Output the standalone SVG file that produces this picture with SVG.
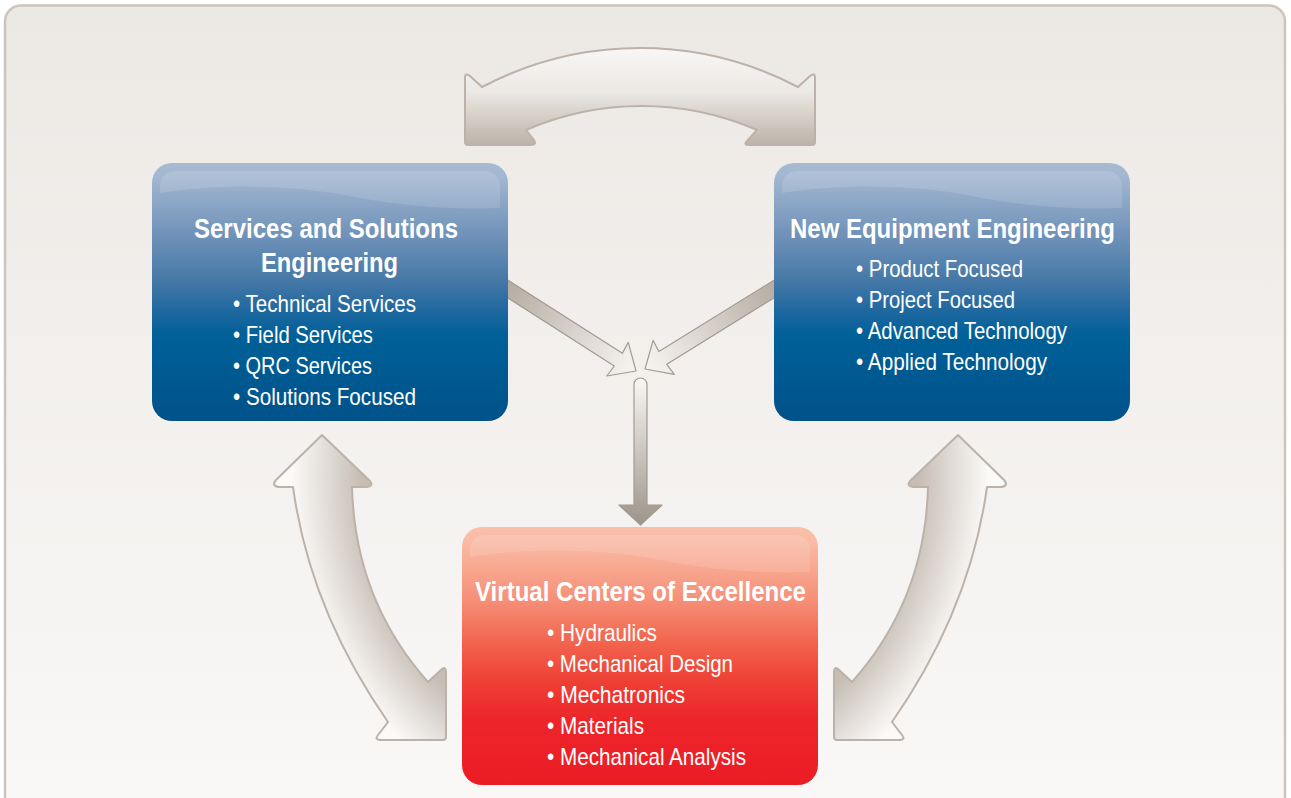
<svg xmlns="http://www.w3.org/2000/svg" width="1291" height="798" viewBox="0 0 1291 798">
<style>
.title{font-family:"Liberation Sans",Arial,sans-serif;font-weight:bold;font-size:28px;fill:#ffffff}
.item{font-family:"Liberation Sans",Arial,sans-serif;font-size:24px;fill:#ffffff}
.gloss{fill:#ffffff;fill-opacity:0.13}
.big{stroke:#bcb2a9;stroke-width:2;stroke-linejoin:round}
.thin{stroke:#a39a91;stroke-width:1.2;stroke-linejoin:round}
</style>
<defs>
<linearGradient id="panelG" x1="0" y1="0" x2="0" y2="1">
<stop offset="0" stop-color="#ece8e4"/>
<stop offset="1" stop-color="#faf9f8"/>
</linearGradient>
<linearGradient id="blueG" x1="0" y1="0" x2="0" y2="1">
<stop offset="0" stop-color="#a6bad2"/>
<stop offset="0.05" stop-color="#a3b7d0"/>
<stop offset="0.26" stop-color="#7495bb"/>
<stop offset="0.45" stop-color="#4779a7"/>
<stop offset="0.57" stop-color="#2068a0"/>
<stop offset="0.67" stop-color="#006098"/>
<stop offset="1" stop-color="#00528a"/>
</linearGradient>
<linearGradient id="redG" x1="0" y1="0" x2="0" y2="1">
<stop offset="0" stop-color="#fabfaa"/>
<stop offset="0.05" stop-color="#f9bca6"/>
<stop offset="0.28" stop-color="#f69078"/>
<stop offset="0.44" stop-color="#f26650"/>
<stop offset="0.6" stop-color="#ef3f35"/>
<stop offset="0.75" stop-color="#ed252a"/>
<stop offset="1" stop-color="#ec1c24"/>
</linearGradient>
<linearGradient id="topArrG" x1="0" y1="0" x2="0" y2="1">
<stop offset="0" stop-color="#f8f7f6"/>
<stop offset="0.45" stop-color="#ece8e4"/>
<stop offset="1" stop-color="#bcb2a8"/>
</linearGradient>
<radialGradient id="sideG" gradientUnits="userSpaceOnUse" cx="670" cy="475" r="390">
<stop offset="0.79" stop-color="#c6bdb4"/>
<stop offset="0.97" stop-color="#fbfaf9"/>
</radialGradient>
<linearGradient id="diagG" x1="0" y1="0" x2="1" y2="0">
<stop offset="0" stop-color="#ada398"/>
<stop offset="1" stop-color="#f7f5f3"/>
</linearGradient>
<linearGradient id="vertG" x1="0" y1="0" x2="0" y2="1">
<stop offset="0" stop-color="#f8f7f5"/>
<stop offset="1" stop-color="#9d948a"/>
</linearGradient>
<path id="diag" d="M -175,-7.5 L -21,-7.5 L -22,-20 L 0,0 L -22,20 L -21,7.5 L -175,7.5 Z"/>
<path id="sideArrow" d="M 322,435 L 370,481 Q 374,486 367,487 L 352,487 Q 355,600 428,682 L 442,669 Q 446,666 446,672 L 446,737 Q 446,740 443,740 L 381,740 Q 374,740 378,735 L 388,722 Q 310,610 293,487 L 279,487 Q 271,486 276,480 Z"/>
</defs>
<rect x="0" y="0" width="1291" height="798" fill="#ffffff"/>
<rect x="5" y="5.5" width="1280" height="830" rx="16" fill="url(#panelG)" stroke="#cdc4bb" stroke-width="2.5"/>

<g id="connectors">
<path id="top-arrow" class="big" fill="url(#topArrG)" d="M 465,78 Q 465,72 470,76 L 482,87 A 340 340 0 0 1 798,87 L 810,76 Q 815,72 815,78 L 815,142 Q 815,145 812,145 L 749,145 Q 743,145 747,141 L 757,130 A 290 290 0 0 0 526,130 L 534,140 Q 537,145 531,145 L 468,145 Q 465,145 465,142 Z"/>
<use id="left-side-arrow" href="#sideArrow" class="big" fill="url(#sideG)"/>
<use id="right-side-arrow" href="#sideArrow" class="big" fill="url(#sideG)" transform="translate(1280,0) scale(-1,1)"/>
<use id="left-diag-arrow" href="#diag" class="thin" fill="url(#diagG)" transform="translate(636,371) rotate(32.6)"/>
<use id="right-diag-arrow" href="#diag" class="thin" fill="url(#diagG)" transform="translate(645,369) rotate(148.2)"/>
<path id="down-arrow" class="thin" fill="url(#vertG)" d="M 634,384.5 A 6.5 6.5 0 0 1 647,384.5 L 647,505 L 662,505 L 640.5,525 L 619,505 L 634,505 Z"/>
</g>

<g id="node-services">
<rect x="152" y="163" width="356" height="258" rx="20" fill="url(#blueG)"/>
<path class="gloss" d="M 160,193 C 215,184 290,184 350,196 C 400,206 450,210 500,208 L 500,188 Q 500,171 483,171 L 177,171 Q 160,171 160,188 Z"/>
<text class="title" x="194" y="238" textLength="264" lengthAdjust="spacingAndGlyphs">Services and Solutions</text>
<text class="title" x="261" y="272" textLength="137" lengthAdjust="spacingAndGlyphs">Engineering</text>
<text class="item" x="233" y="311.5" textLength="183" lengthAdjust="spacingAndGlyphs">• Technical Services</text>
<text class="item" x="233" y="342.5" textLength="140" lengthAdjust="spacingAndGlyphs">• Field Services</text>
<text class="item" x="233" y="373.5" textLength="139" lengthAdjust="spacingAndGlyphs">• QRC Services</text>
<text class="item" x="233" y="404.5" textLength="183" lengthAdjust="spacingAndGlyphs">• Solutions Focused</text>
</g>

<g id="node-new-equipment">
<rect x="774" y="163" width="356" height="258" rx="20" fill="url(#blueG)"/>
<path class="gloss" d="M 782,193 C 837,184 912,184 972,196 C 1022,206 1072,210 1122,208 L 1122,188 Q 1122,171 1105,171 L 799,171 Q 782,171 782,188 Z"/>
<text class="title" x="790" y="238.3" textLength="325" lengthAdjust="spacingAndGlyphs">New Equipment Engineering</text>
<text class="item" x="856" y="277" textLength="167" lengthAdjust="spacingAndGlyphs">• Product Focused</text>
<text class="item" x="856" y="308" textLength="159" lengthAdjust="spacingAndGlyphs">• Project Focused</text>
<text class="item" x="856" y="339" textLength="211" lengthAdjust="spacingAndGlyphs">• Advanced Technology</text>
<text class="item" x="856" y="370" textLength="191" lengthAdjust="spacingAndGlyphs">• Applied Technology</text>
</g>

<g id="node-virtual-centers">
<rect x="462" y="527" width="356" height="258" rx="20" fill="url(#redG)"/>
<path class="gloss" d="M 470,557 C 525,548 600,548 660,560 C 710,570 760,574 810,572 L 810,552 Q 810,535 793,535 L 487,535 Q 470,535 470,552 Z"/>
<text class="title" x="475" y="601" textLength="331" lengthAdjust="spacingAndGlyphs">Virtual Centers of Excellence</text>
<text class="item" x="547" y="640.5" textLength="110" lengthAdjust="spacingAndGlyphs">• Hydraulics</text>
<text class="item" x="547" y="671.5" textLength="186" lengthAdjust="spacingAndGlyphs">• Mechanical Design</text>
<text class="item" x="547" y="702.5" textLength="138" lengthAdjust="spacingAndGlyphs">• Mechatronics</text>
<text class="item" x="547" y="733.5" textLength="97" lengthAdjust="spacingAndGlyphs">• Materials</text>
<text class="item" x="547" y="764.5" textLength="199" lengthAdjust="spacingAndGlyphs">• Mechanical Analysis</text>
</g>
</svg>
